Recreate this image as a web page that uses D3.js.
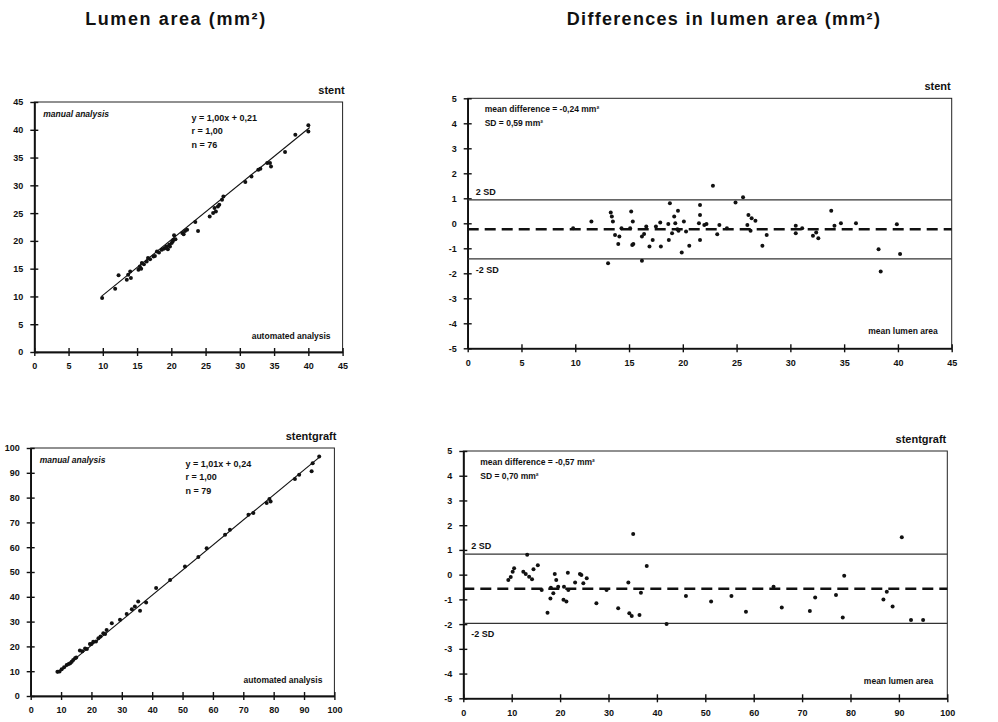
<!DOCTYPE html>
<html>
<head>
<meta charset="utf-8">
<script src="https://cdnjs.cloudflare.com/ajax/libs/d3/7.8.5/d3.min.js"></script>
<style>
  body { margin: 0; background: #fff; }
  text { font-family: "Liberation Sans", Arial, sans-serif; fill: #111; }
</style>
</head>
<body>
<div id="chart"></div>
<script>

// ---- data ----

// stent: automated (x) vs manual (y)
var stent_scatter = [
  [9.9, 9.7], [11.8, 11.4], [12.3, 13.8], [13.5, 13.0], [13.7, 13.9], [14.0, 14.5], [14.1, 13.3],
  [15.2, 14.8], [15.4, 15.4], [15.6, 15.0], [15.7, 16.0], [16.0, 15.8], [16.4, 16.3], [16.6, 16.9],
  [16.9, 16.7], [17.4, 17.2], [17.6, 17.3], [17.9, 18.1], [18.2, 17.9], [18.6, 18.4], [18.9, 18.6],
  [19.1, 18.7], [19.3, 19.0], [19.5, 18.5], [19.7, 19.3], [19.8, 19.0], [20.05, 19.6], [20.2, 19.9],
  [20.3, 20.2], [20.4, 21.0], [20.6, 20.3], [21.6, 21.4], [21.8, 21.2], [22.0, 21.8], [22.3, 22.0],
  [23.5, 23.4], [23.9, 21.8], [25.6, 24.4], [26.1, 25.0], [26.3, 25.9], [26.5, 25.3], [26.8, 26.2],
  [27.0, 26.5], [27.4, 27.4], [27.6, 28.0], [30.8, 30.6], [31.7, 31.6], [32.7, 32.8], [33.0, 33.0],
  [34.0, 34.0], [34.4, 34.0], [34.55, 33.4], [36.6, 36.0], [38.1, 39.1], [40.0, 40.8], [40.0, 39.7]
]

// stentgraft: automated (x) vs manual (y)
var graft_scatter = [
  [8.8, 9.8], [9.5, 9.9], [10.2, 10.8], [11.0, 11.6], [11.85, 12.5], [12.5, 12.9], [13.0, 13.2],
  [13.5, 13.8], [14.0, 14.5], [14.6, 15.2], [15.0, 15.5], [16.2, 18.3], [17.0, 18.0], [17.9, 19.2],
  [18.5, 19.0], [19.5, 21.0], [20.0, 21.0], [20.6, 21.9], [21.5, 22.0], [22.3, 23.3], [23.0, 24.0],
  [23.9, 25.3], [24.5, 25.0], [25.0, 26.6], [26.7, 29.3], [29.4, 30.7], [31.6, 33.1], [33.3, 35.0],
  [34.3, 36.1], [35.4, 38.1], [36.0, 34.4], [38.0, 37.7], [41.3, 43.5], [45.9, 46.8], [50.8, 52.2],
  [55.2, 56.0], [57.95, 59.6], [64.0, 65.0], [65.6, 67.0], [71.7, 73.1], [73.3, 73.8], [77.7, 77.8],
  [78.6, 79.4], [79.0, 78.4], [87.0, 87.5], [88.4, 89.2], [92.5, 90.6], [92.85, 93.9], [95.0, 96.6]
]

// stent: mean lumen area (x) vs difference (y)
var stent_diff = [
  [9.8, -0.2], [11.5, 0.07], [13.05, -1.6], [13.3, 0.43], [13.4, 0.27], [13.5, 0.07], [13.7, -0.47],
  [14.0, -0.83], [14.1, -0.53], [14.3, -0.2], [15.1, -0.2], [15.2, 0.47], [15.3, -0.87], [15.35, 0.07],
  [15.4, -0.83], [16.2, -0.53], [16.2, -1.5], [16.4, -0.43], [16.6, -0.13], [16.9, -0.93], [17.2, -0.67],
  [17.5, -0.13], [17.9, 0.03], [17.96, -0.93], [18.65, -0.03], [18.7, -0.67], [18.8, 0.8], [19.0, -0.4],
  [19.2, 0.27], [19.3, 0.0], [19.5, -0.24], [19.55, 0.5], [19.6, -0.3], [19.9, -1.17], [20.1, 0.07],
  [20.3, -0.33], [20.6, -0.9], [21.5, 0.0], [21.6, 0.73], [21.6, 0.33], [21.6, -0.67], [22.0, -0.07],
  [22.2, -0.03], [22.8, 1.5], [23.2, -0.44], [23.4, -0.07], [24.1, -0.2], [24.9, 0.83], [25.6, 1.04],
  [26.0, -0.07], [26.1, 0.33], [26.3, -0.3], [26.4, 0.2], [26.75, 0.1], [27.4, -0.9], [27.8, -0.47],
  [30.5, -0.1], [30.5, -0.4], [31.1, -0.2], [32.1, -0.5], [32.4, -0.37], [32.6, -0.6], [33.8, 0.5],
  [34.1, -0.1], [34.7, 0.0], [36.1, 0.0], [38.2, -1.04], [38.4, -1.93], [39.9, -0.04], [40.2, -1.23]
]

// stentgraft: mean lumen area (x) vs difference (y)
var graft_diff = [
  [9.3, -0.22], [9.8, -0.1], [10.2, 0.12], [10.5, 0.26], [12.4, 0.12], [12.9, 0.03], [13.2, 0.8],
  [13.6, -0.08], [14.2, -0.19], [14.5, 0.22], [15.4, 0.38], [16.2, -0.62], [17.4, -1.54], [18.0, -0.96],
  [18.1, -0.53], [18.6, -0.75], [18.9, 0.03], [19.2, -0.22], [19.6, -0.49], [20.7, -1.02], [20.8, -0.49],
  [21.3, -1.09], [21.6, 0.08], [21.7, -0.62], [23.1, -0.32], [24.1, 0.03], [24.4, -0.01], [24.8, -0.35],
  [25.5, -0.15], [27.5, -1.16], [29.6, -0.62], [32.0, -1.36], [34.1, -0.32], [34.3, -1.56], [34.8, -1.67],
  [35.1, 1.64], [36.4, -1.63], [36.7, -0.73], [37.9, 0.35], [42.0, -2.0], [46.0, -0.86], [51.2, -1.09],
  [55.4, -0.86], [58.4, -1.5], [64.1, -0.49], [65.8, -1.33], [71.6, -1.47], [72.7, -0.92], [77.0, -0.82],
  [78.4, -1.73], [78.7, -0.04], [86.8, -1.0], [87.5, -0.69], [88.7, -1.29], [90.6, 1.51], [92.5, -1.83],
  [95.0, -1.83]
]

// regression lines [slope, intercept, x from, x to]
var stent_fit = [1.00, 0.21, 9.8, 40.2]
var graft_fit = [1.01, 0.24, 8.8, 95.2]

// bland-altman stats [mean difference, SD]
var stent_stats = [-0.24, 0.59]
var graft_stats = [-0.57, 0.70]

var ticks_45 = [0, 5, 10, 15, 20, 25, 30, 35, 40, 45]
var ticks_100 = [0, 10, 20, 30, 40, 50, 60, 70, 80, 90, 100]
var ticks_diff = [-5, -4, -3, -2, -1, 0, 1, 2, 3, 4, 5]

// ---- drawing ----

var svg = d3.select('#chart').append('svg')
  .attr('width', 998)
  .attr('height', 722)

svg.append('text')
  .attr('x', 176).attr('y', 25)
  .attr('text-anchor', 'middle')
  .style('font-size', '18px').style('font-weight', 'bold').style('letter-spacing', '1.6px')
  .text('Lumen area (mm²)')

svg.append('text')
  .attr('x', 724).attr('y', 25)
  .attr('text-anchor', 'middle')
  .style('font-size', '18px').style('font-weight', 'bold').style('letter-spacing', '1.3px')
  .text('Differences in lumen area (mm²)')

function label(x, y, txt, size, anchor) {
  return svg.append('text')
    .attr('x', x).attr('y', y)
    .attr('text-anchor', anchor || 'start')
    .style('font-size', (size || 9) + 'px')
    .style('font-weight', 'bold')
    .text(txt)
}

function draw_frame(x, y, xticks, yticks) {

  var x0 = x.range()[0], x1 = x.range()[1]
  var y0 = y.range()[0], y1 = y.range()[1]

  svg.append('rect')
    .attr('x', x0).attr('y', y1)
    .attr('width', x1 - x0).attr('height', y0 - y1)
    .attr('fill', 'none')
    .attr('stroke', '#222')
    .attr('stroke-width', 1)

  // x axis, ticks cross the line
  var gx = svg.append('g').attr('transform', 'translate(0,' + y0 + ')')
  gx.call(d3.axisBottom(x).tickValues(xticks).tickSize(4).tickSizeOuter(0).tickPadding(7)
    .tickFormat(function(d) { return String(d) }))
  svg.append('g').attr('transform', 'translate(0,' + y0 + ')')
    .call(d3.axisTop(x).tickValues(xticks).tickSize(4).tickSizeOuter(0).tickFormat(''))

  var gy = svg.append('g').attr('transform', 'translate(' + x0 + ',0)')
  gy.call(d3.axisLeft(y).tickValues(yticks).tickSize(4).tickSizeOuter(0).tickPadding(7)
    .tickFormat(function(d) { return String(d) }))
  svg.append('g').attr('transform', 'translate(' + x0 + ',0)')
    .call(d3.axisRight(y).tickValues(yticks).tickSize(4).tickSizeOuter(0).tickFormat(''))

  svg.selectAll('.domain').attr('stroke', '#111').attr('stroke-width', 1.6)
  svg.selectAll('.tick line').attr('stroke', '#111').attr('stroke-width', 1.4)
  svg.selectAll('.tick text')
    .style('font-family', '"Liberation Sans", Arial, sans-serif')
    .style('font-size', '9px').style('font-weight', 'bold').attr('fill', '#111')
}

function draw_points(x, y, data) {
  svg.append('g').selectAll('circle')
    .data(data)
    .enter().append('circle')
    .attr('cx', function(d) { return x(d[0]) })
    .attr('cy', function(d) { return y(d[1]) })
    .attr('r', 2)
    .attr('fill', '#111')
}

function scatter_panel(data, fit, xr, yr, domain, ticks, n, name) {

  var x = d3.scaleLinear().domain([0, domain]).range(xr)
  var y = d3.scaleLinear().domain([0, domain]).range(yr)

  draw_frame(x, y, ticks, ticks)

  svg.append('line')
    .attr('x1', x(fit[2])).attr('y1', y(fit[0] * fit[2] + fit[1]))
    .attr('x2', x(fit[3])).attr('y2', y(fit[0] * fit[3] + fit[1]))
    .attr('stroke', '#111').attr('stroke-width', 1.1)

  draw_points(x, y, data)

  var left = xr[0], top = yr[1]
  label(xr[1] + 2, top - 8, name, 11, 'end')
  label(left + 9, top + 15, 'manual analysis', 8.5).style('font-style', 'italic')
  var fx = left + (xr[1] - left) * 0.51
  label(fx, top + 19, 'y = ' + fit[0].toFixed(2).replace('.', ',') + 'x + ' + fit[1].toFixed(2).replace('.', ','), 9)
  label(fx, top + 32, 'r = 1,00', 9)
  label(fx, top + 46, 'n = ' + n, 9)
  label(xr[1] - 12, yr[0] - 13, 'automated analysis', 8.5, 'end')
}

function diff_panel(data, stats, xr, yr, domain, ticks, name) {

  var x = d3.scaleLinear().domain([0, domain]).range(xr)
  var y = d3.scaleLinear().domain([-5, 5]).range(yr)

  draw_frame(x, y, ticks, ticks_diff)

  var md = stats[0], sd = stats[1]

  ;[md + 2 * sd, md - 2 * sd].forEach(function(v) {
    svg.append('line')
      .attr('x1', xr[0]).attr('x2', xr[1])
      .attr('y1', y(v)).attr('y2', y(v))
      .attr('stroke', '#333').attr('stroke-width', 1.2)
  })

  svg.append('line')
    .attr('x1', xr[0]).attr('x2', xr[1])
    .attr('y1', y(md)).attr('y2', y(md))
    .attr('stroke', '#111').attr('stroke-width', 2.6)
    .attr('stroke-dasharray', '11,6')

  draw_points(x, y, data)

  var left = xr[0], top = yr[1]
  label(xr[1] - 1, top - 8, name, 11, 'end')
  label(left + 17, top + 14, 'mean difference = ' + String(md.toFixed(2)).replace('.', ',') + ' mm²', 8.5)
  label(left + 17, top + 28, 'SD = ' + sd.toFixed(2).replace('.', ',') + ' mm²', 8.5)
  label(left + 8, y(md + 2 * sd) - 5, '2 SD', 9)
  label(left + 8, y(md - 2 * sd) + 14, '-2 SD', 9)
  label(xr[1] - 14, yr[0] - 14, 'mean lumen area', 8.5, 'end')
}

scatter_panel(stent_scatter, stent_fit, [34.3, 342.6], [352, 102], 45, ticks_45, 76, 'stent')
scatter_panel(graft_scatter, graft_fit, [30.7, 334.4], [696, 448], 100, ticks_100, 79, 'stentgraft')
diff_panel(stent_diff, stent_stats, [467.7, 951.7], [348.3, 98.3], 45, ticks_45, 'stent')
diff_panel(graft_diff, graft_stats, [463.3, 947.3], [698.3, 451], 100, ticks_100, 'stentgraft')

</script>
</body>
</html>
